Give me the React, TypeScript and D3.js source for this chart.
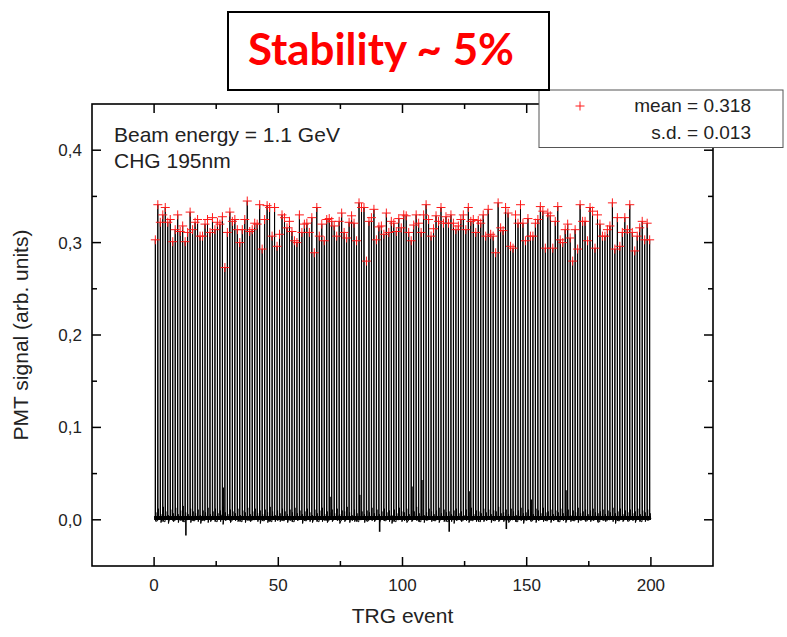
import React from "react";
import * as d3 from "d3";

// Peak PMT signal for each TRG event
const peaks: number[] = [
  0.303, 0.341, 0.322, 0.330, 0.338, 0.322, 0.325, 0.301, 0.314, 0.330,
  0.312, 0.318, 0.301, 0.311, 0.333, 0.314, 0.322, 0.325, 0.307, 0.307,
  0.320, 0.325, 0.311, 0.327, 0.314, 0.322, 0.320, 0.328, 0.273, 0.311,
  0.333, 0.323, 0.325, 0.314, 0.300, 0.314, 0.325, 0.345,
  0.312, 0.314, 0.321, 0.320, 0.341, 0.293, 0.325, 0.340, 0.338, 0.307,
  0.338, 0.296, 0.309, 0.330, 0.327, 0.316, 0.323, 0.312, 0.302, 0.300,
  0.330, 0.311, 0.320, 0.321, 0.311, 0.327, 0.289, 0.338, 0.307, 0.320,
  0.302, 0.325, 0.326, 0.323, 0.318, 0.307, 0.323, 0.332, 0.311, 0.305,
  0.322, 0.329, 0.321, 0.302, 0.343, 0.338, 0.338, 0.280, 0.323, 0.327,
  0.336, 0.303, 0.317, 0.318, 0.309, 0.332, 0.311, 0.323, 0.321, 0.312,
  0.326, 0.316, 0.330, 0.329, 0.311, 0.302, 0.319, 0.330, 0.321, 0.311,
  0.330, 0.341, 0.325, 0.307, 0.315, 0.329, 0.323, 0.338, 0.321, 0.328,
  0.321, 0.330, 0.321, 0.314, 0.318, 0.325, 0.330, 0.314, 0.338, 0.323,
  0.325, 0.311, 0.324, 0.321, 0.330, 0.307, 0.336, 0.309, 0.307, 0.289,
  0.343, 0.316, 0.313, 0.338, 0.332, 0.296, 0.294, 0.330, 0.321, 0.341,
  0.321, 0.302, 0.326, 0.307, 0.307, 0.321, 0.325, 0.339, 0.334, 0.294,
  0.332, 0.329, 0.294, 0.323, 0.339, 0.303, 0.300, 0.314, 0.320, 0.305,
  0.280, 0.314, 0.293, 0.341, 0.323, 0.323, 0.302, 0.338, 0.334, 0.294,
  0.330, 0.320, 0.307, 0.307, 0.314, 0.318, 0.343, 0.293, 0.327, 0.296,
  0.311, 0.327, 0.314, 0.341, 0.311, 0.291, 0.307, 0.316, 0.323, 0.303,
  0.321, 0.303,
];

// Baseline noise between pulses, in thousandths
const baseNoise: number[] = [
  2, -1, 3, 1, -2, 4, 0, 2, -1, 3,
  1, 2, -2, 0, 3, 1, -1, 2, 4, 0,
  -1, 3, 2, 0, 1, -2, 2, 5, 1, 0,
  3, -1, 1, 2, 0, -2, 3, 1, 2, -1,
  0, 2, 4, 1, -1, 3, 0, -2, 2, 1,
  2, 0, -1, 3, 1, 2, -2, 1, 0, 4,
  1, -1, 2, 3, 0, 1, -2, 2, 1, 3,
  -1, 2, 0, 1, 4, -1, 2, 0, 3, 1,
  2, 1, -2, 0, 3, 2, -1, 1, 2, 0,
  3, 0, 1, -1, 2, 4, 1, -2, 0, 2,
  1, 3, -1, 2, 0, 1, 2, -2, 3, 1,
  0, 2, 1, -1, 3, 0, 2, 1, -2, 2,
  4, 1, 0, 2, -1, 1, 3, 0, -1, 2,
  1, -2, 2, 1, 0, 3, 1, -1, 2, 0,
  2, 1, 3, -1, 0, 2, -2, 1, 4, 1,
  0, 2, -1, 3, 1, 0, 2, 1, -1, 3,
  1, 0, 2, -2, 1, 3, 0, 2, 1, -1,
  3, 1, 0, 2, -1, 2, 1, 0, 3, -2,
  1, 2, -1, 0, 2, 4, 1, -1, 2, 0,
  2, -1, 1, 3, 0, 1, -2, 2, 1, 0,
];

// Small afterpulse heights following each pulse, in thousandths
const afterPulse: number[] = [
  8, 12, 6, 14, 9, 5, 11, 7, 13, 6,
  10, 15, 8, 6, 12, 9, 7, 11, 5, 10,
  8, 13, 6, 9, 12, 7, 10, 14, 8, 6,
  11, 9, 7, 12, 5, 10, 8, 13, 6, 9,
  12, 7, 10, 6, 11, 8, 14, 9, 5, 10,
  7, 12, 9, 6, 11, 8, 13, 7, 10, 6,
  9, 12, 8, 5, 11, 7, 10, 13, 6, 9,
  8, 11, 7, 12, 6, 10, 9, 14, 8, 5,
  11, 7, 12, 9, 6, 10, 8, 13, 7, 11,
  6, 9, 12, 8, 10, 5, 11, 7, 13, 9,
  8, 12, 6, 10, 9, 14, 7, 11, 5, 8,
  12, 9, 6, 10, 13, 7, 11, 8, 9, 6,
  10, 12, 7, 9, 5, 11, 8, 13, 6, 10,
  9, 7, 12, 8, 11, 6, 10, 9, 14, 7,
  8, 11, 6, 12, 9, 5, 10, 13, 7, 8,
  11, 9, 6, 12, 10, 7, 13, 8, 9, 11,
  6, 10, 8, 12, 7, 9, 11, 5, 10, 8,
  13, 7, 9, 11, 6, 10, 12, 8, 7, 9,
  11, 6, 10, 8, 13, 7, 9, 12, 6, 10,
  8, 11, 7, 9, 12, 6, 10, 8, 11, 7,
];

// Occasional larger afterpulses / dips near the baseline
const spikeEvents: number[] = [27, 70, 82, 103, 107, 126, 151, 165, 12, 90, 118, 141];
const spikeValues: number[] = [0.035, 0.025, 0.027, 0.036, 0.043, 0.031, 0.022, 0.032, -0.017, -0.013, -0.013, -0.010];

const xMajor: number[] = [0, 50, 100, 150, 200];
const xMinor: number[] = [25, 75, 125, 175];
const yMajor: number[] = [0, 0.1, 0.2, 0.3, 0.4];
const yMinor: number[] = [0.05, 0.15, 0.25, 0.35];

const titleText = "Stability ~ 5%";
const legendLines: string[] = ["mean = 0.318", "s.d. = 0.013"];
const noteLines: string[] = ["Beam energy = 1.1 GeV", "CHG 195nm"];
const xLabel = "TRG event";
const yLabel = "PMT signal (arb. units)";

const W = 787;
const H = 637;
const L = 92, R = 713, T = 104, B = 566;
const FONT = "'Liberation Sans', Arial, sans-serif";

export default function App() {
  const x = d3.scaleLinear().domain([-25, 225]).range([L, R]);
  const y = d3.scaleLinear().domain([-0.05, 0.45]).range([B, T]);

  const pts: [number, number][] = [];
  peaks.forEach((p, i) => {
    const n0 = baseNoise[i] / 1000;
    const n1 = baseNoise[(i + 1) % baseNoise.length] / 1000;
    pts.push([i + 0.1, n0]);
    pts.push([i + 0.42, n0]);
    pts.push([i + 0.5, p]);
    pts.push([i + 0.58, n1]);
    pts.push([i + 0.7, afterPulse[i] / 1000]);
    pts.push([i + 0.78, -n0]);
  });
  pts.push([200, baseNoise[0] / 1000]);
  const line = d3
    .line<[number, number]>()
    .x((d) => x(d[0]))
    .y((d) => y(d[1]));

  const cross = (cx: number, cy: number, s: number) =>
    `M${cx - s},${cy}H${cx + s}M${cx},${cy - s}V${cy + s}`;

  const fmt = (v: number) => d3.format(".1f")(v).replace(".", ",");

  return (
    <div style={{ position: "absolute", left: 0, top: 0 }}>
      <svg width={W} height={H} style={{ display: "block", background: "#fff" }}>
        <rect x={0} y={0} width={W} height={H} fill="#fff" />
        {/* baseline band */}
        <line x1={x(0)} x2={x(200)} y1={y(0.002)} y2={y(0.002)} stroke="#000" strokeWidth={4} />
        {/* trace */}
        <path d={line(pts) || ""} fill="none" stroke="#000" strokeWidth={1} />
        {spikeEvents.map((e, i) => (
          <line key={"s" + i} x1={x(e + 0.8)} x2={x(e + 0.8)} y1={y(0)} y2={y(spikeValues[i])} stroke="#000" strokeWidth={1.6} />
        ))}
        {/* markers */}
        <g stroke="#ff1a1a" strokeWidth={1} fill="none">
          {peaks.map((p, i) => (
            <path key={"m" + i} d={cross(x(i + 0.5), y(p), 4.5)} />
          ))}
        </g>
        {/* frame */}
        <rect x={L} y={T} width={R - L} height={B - T} fill="none" stroke="#000" strokeWidth={1.6} />
        {/* ticks */}
        <g stroke="#000" strokeWidth={1.5}>
          {xMajor.map((v) => (
            <g key={"xM" + v}>
              <line x1={x(v)} x2={x(v)} y1={B} y2={B - 9} />
              <line x1={x(v)} x2={x(v)} y1={T} y2={T + 9} />
            </g>
          ))}
          {xMinor.map((v) => (
            <g key={"xm" + v}>
              <line x1={x(v)} x2={x(v)} y1={B} y2={B - 5} />
              <line x1={x(v)} x2={x(v)} y1={T} y2={T + 5} />
            </g>
          ))}
          {yMajor.map((v) => (
            <g key={"yM" + v}>
              <line x1={L} x2={L + 9} y1={y(v)} y2={y(v)} />
              <line x1={R} x2={R - 9} y1={y(v)} y2={y(v)} />
            </g>
          ))}
          {yMinor.map((v) => (
            <g key={"ym" + v}>
              <line x1={L} x2={L + 5} y1={y(v)} y2={y(v)} />
              <line x1={R} x2={R - 5} y1={y(v)} y2={y(v)} />
            </g>
          ))}
        </g>
        {/* tick labels */}
        <g fontFamily={FONT} fontSize={17} fill="#222">
          {xMajor.map((v) => (
            <text key={"xl" + v} x={x(v)} y={591} textAnchor="middle">{v}</text>
          ))}
          {yMajor.map((v) => (
            <text key={"yl" + v} x={82} y={y(v) + 6} textAnchor="end">{fmt(v)}</text>
          ))}
        </g>
        <text x={(L + R) / 2} y={623} textAnchor="middle" fontFamily={FONT} fontSize={21} fill="#222">{xLabel}</text>
        <text transform={`translate(28,${(T + B) / 2}) rotate(-90)`} textAnchor="middle" fontFamily={FONT} fontSize={21} fill="#222">{yLabel}</text>
        {/* annotations */}
        {noteLines.map((t, i) => (
          <text key={"n" + i} x={114} y={141.5 + i * 26.5} fontFamily={FONT} fontSize={21} fill="#222">{t}</text>
        ))}
        {/* legend */}
        <rect x={539} y={90} width={244} height={57.5} fill="#fff" stroke="#555" strokeWidth={1} />
        <path d={cross(580, 106, 4.5)} stroke="#ff1a1a" strokeWidth={1} fill="none" />
        {legendLines.map((t, i) => (
          <text key={"l" + i} x={751} y={112 + i * 26.5} textAnchor="end" fontFamily={FONT} fontSize={19} fill="#222">{t}</text>
        ))}
        {/* title box */}
        <rect x={228} y={12} width={321} height={78} fill="#fff" stroke="#000" strokeWidth={2} />
        <text x={381} y={65} textAnchor="middle" fontFamily="Lato, 'Open Sans', sans-serif" fontWeight="bold" fontSize={43} fill="#ff0000" textLength={266} lengthAdjust="spacingAndGlyphs">{titleText}</text>
      </svg>
    </div>
  );
}
